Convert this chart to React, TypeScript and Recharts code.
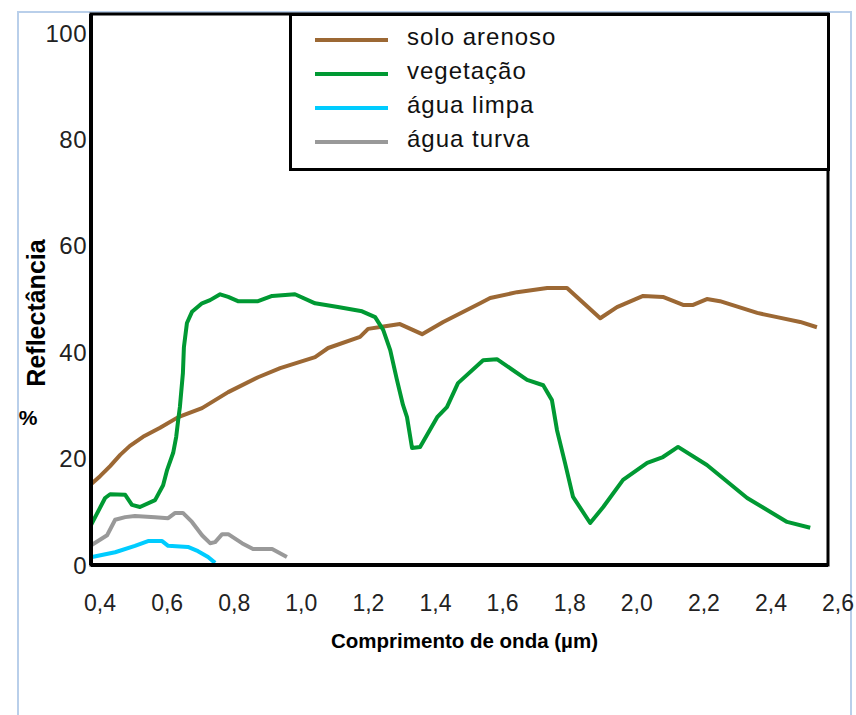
import React from 'react';
import { LineChart, Line, XAxis, YAxis, Legend, ReferenceArea } from 'recharts';

// wavelength (µm) / reflectance (%)
const soloWave = [0.373, 0.4, 0.43, 0.46, 0.489, 0.528, 0.579, 0.633, 0.704, 0.782, 0.871, 0.937, 1.041, 1.08, 1.175, 1.199, 1.25, 1.294, 1.36, 1.423, 1.533, 1.563, 1.643, 1.733, 1.792, 1.891, 1.941, 2.019, 2.078, 2.138, 2.168, 2.209, 2.248, 2.359, 2.418, 2.487, 2.537];
const soloRefl = [15.2, 16.7, 18.6, 20.7, 22.4, 24.1, 25.8, 27.8, 29.5, 32.5, 35.3, 37.0, 39.1, 40.8, 42.9, 44.4, 44.9, 45.3, 43.4, 45.7, 49.2, 50.2, 51.3, 52.1, 52.1, 46.4, 48.5, 50.6, 50.4, 48.9, 48.9, 50.0, 49.6, 47.4, 46.6, 45.7, 44.7];

const vegWave = [0.373, 0.415, 0.43, 0.475, 0.495, 0.519, 0.564, 0.588, 0.6, 0.618, 0.627, 0.633, 0.638, 0.647, 0.65, 0.659, 0.674, 0.704, 0.728, 0.758, 0.782, 0.811, 0.871, 0.913, 0.981, 1.041, 1.109, 1.181, 1.22, 1.244, 1.265, 1.285, 1.303, 1.315, 1.33, 1.354, 1.405, 1.434, 1.467, 1.542, 1.583, 1.673, 1.721, 1.747, 1.762, 1.786, 1.81, 1.861, 1.9, 1.959, 2.031, 2.078, 2.123, 2.209, 2.329, 2.448, 2.517];
const vegRefl = [7.5, 12.6, 13.3, 13.2, 11.3, 10.9, 12.2, 15.0, 17.9, 21.1, 24.1, 27.3, 29.7, 36.1, 41.0, 45.5, 47.6, 49.2, 49.8, 50.9, 50.4, 49.6, 49.6, 50.6, 50.9, 49.2, 48.5, 47.7, 46.6, 44.2, 40.4, 34.8, 30.1, 27.8, 22.0, 22.2, 27.8, 29.7, 34.2, 38.5, 38.7, 34.8, 33.8, 31.0, 25.4, 19.2, 12.8, 7.9, 10.9, 16.0, 19.2, 20.3, 22.2, 18.8, 12.6, 8.1, 7.0];

const limpaWave = [0.376, 0.445, 0.504, 0.543, 0.585, 0.603, 0.662, 0.692, 0.722, 0.743];
const limpaRefl = [1.5, 2.4, 3.6, 4.5, 4.5, 3.6, 3.4, 2.6, 1.5, 0.4];

const turvaWave = [0.376, 0.421, 0.445, 0.475, 0.504, 0.564, 0.603, 0.624, 0.647, 0.674, 0.704, 0.728, 0.743, 0.764, 0.782, 0.823, 0.856, 0.913, 0.957];
const turvaRefl = [3.8, 5.6, 8.5, 9.0, 9.2, 9.0, 8.8, 9.8, 9.8, 8.1, 5.6, 4.1, 4.3, 5.8, 5.8, 4.1, 3.0, 3.0, 1.5];

const seriesNames = ['solo arenoso', 'vegetação', 'água limpa', 'água turva'];
const seriesColors = ['#9C6834', '#009933', '#00CCFF', '#999999'];

const xTicks = [0.4, 0.6, 0.8, 1.0, 1.2, 1.4, 1.6, 1.8, 2.0, 2.2, 2.4, 2.6];
const yTicks = [0, 20, 40, 60, 80, 100];

const toPoints = (xs: number[], ys: number[]) => xs.map((x, i) => ({ x, y: ys[i] }));
const seriesData = [
  toPoints(soloWave, soloRefl),
  toPoints(vegWave, vegRefl),
  toPoints(limpaWave, limpaRefl),
  toPoints(turvaWave, turvaRefl),
];

const FONT = '"Liberation Sans", Arial, sans-serif';

const renderLegend = (props: any) => {
  const { payload } = props;
  return (
    <div
      style={{
        width: 541,
        height: 158,
        boxSizing: 'border-box',
        border: '3px solid #000',
        background: '#fff',
        paddingTop: 4,
        fontFamily: FONT,
      }}
    >
      {(payload || []).map((entry: any) => (
        <div key={entry.value} style={{ height: 34, display: 'flex', alignItems: 'center' }}>
          <svg width={73} height={34} style={{ marginLeft: 23, marginRight: 19 }}>
            <line x1={0} x2={73} y1={20} y2={20} stroke={entry.color} strokeWidth={4} />
          </svg>
          <span style={{ fontSize: 24, letterSpacing: 1, color: '#111' }}>{entry.value}</span>
        </div>
      ))}
    </div>
  );
};

const YTitle = (props: any) => {
  const vb = props.viewBox || { x: 0, y: 14 };
  const cx = vb.x + 45;
  const cy = 313;
  return (
    <g>
      <text
        x={cx}
        y={cy}
        transform={`rotate(-90 ${cx} ${cy})`}
        textAnchor="middle"
        fontSize={25}
        fontWeight="bold"
        fontFamily={FONT}
        fill="#000"
      >
        Reflectância
      </text>
      <text x={vb.x + 28} y={425} textAnchor="middle" fontSize={21} fontWeight="bold" fontFamily={FONT} fill="#000">
        %
      </text>
    </g>
  );
};

const XTitle = (props: any) => {
  const vb = props.viewBox || { x: 91, y: 565, width: 737 };
  return (
    <text
      x={vb.x + vb.width / 2 + 5}
      y={vb.y + 83}
      textAnchor="middle"
      fontSize={20.5}
      fontWeight="bold"
      fontFamily={FONT}
      fill="#000"
    >
      Comprimento de onda (µm)
    </text>
  );
};

const App: React.FC = () => {
  return (
    <div style={{ position: 'absolute', left: 0, top: 0, width: 856, height: 715, background: '#fff' }}>
      <div
        style={{
          position: 'absolute',
          left: 17,
          top: 11,
          width: 831,
          height: 704,
          borderLeft: '2px solid #b9cfea',
          borderTop: '2px solid #b9cfea',
          borderRight: '2px solid #b9cfea',
        }}
      />
      <LineChart width={856} height={715} margin={{ top: 14, right: 28, bottom: 0, left: 0 }}>
        <XAxis
          type="number"
          dataKey="x"
          domain={[0.373, 2.57]}
          allowDataOverflow
          ticks={xTicks}
          interval={0}
          tickFormatter={(v: number) => v.toFixed(1).replace('.', ',')}
          tickLine={false}
          tickSize={0}
          tickMargin={30}
          height={150}
          axisLine={{ stroke: '#000', strokeWidth: 4 }}
          tick={{ fontSize: 23, fill: '#222', fontFamily: FONT }}
          label={<XTitle />}
        />
        <YAxis
          type="number"
          dataKey="y"
          domain={[0, 103.6]}
          allowDataOverflow
          ticks={yTicks}
          interval={0}
          tickLine={false}
          tickSize={0}
          tickMargin={4}
          width={91}
          axisLine={{ stroke: '#000', strokeWidth: 4 }}
          tick={{ fontSize: 24, letterSpacing: 0.5, fill: '#222', fontFamily: FONT }}
          label={<YTitle />}
        />
        <ReferenceArea x1={0.373} x2={2.57} y1={0} y2={103.6} fill="none" stroke="#000" strokeWidth={3} />
        {seriesData.map((d, i) => (
          <Line
            key={seriesNames[i]}
            data={d}
            dataKey="y"
            name={seriesNames[i]}
            type="linear"
            stroke={seriesColors[i]}
            strokeWidth={4}
            strokeLinejoin="round"
            dot={false}
            activeDot={false}
            isAnimationActive={false}
          />
        ))}
        <Legend
          layout="vertical"
          align="center"
          verticalAlign="middle"
          wrapperStyle={{ position: 'absolute', left: 289, top: 13, width: 541, height: 158 }}
          content={renderLegend}
        />
      </LineChart>
    </div>
  );
};

export default App;
